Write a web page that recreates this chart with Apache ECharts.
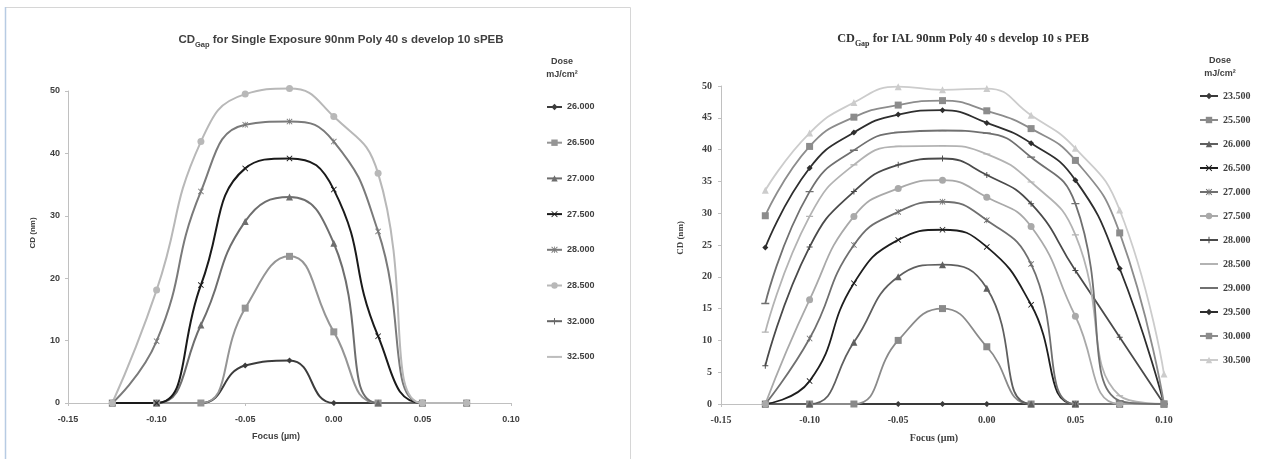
<!DOCTYPE html>
<html><head><meta charset="utf-8">
<script src="https://cdn.jsdelivr.net/npm/echarts@6/dist/echarts.min.js"></script>
<style>
html,body{margin:0;padding:0;background:#fff;width:1276px;height:459px;overflow:hidden}
#L{position:absolute;left:0;top:0;width:640px;height:459px}
#R{position:absolute;left:640px;top:0;width:636px;height:459px}
</style></head><body>
<div id="L"></div><div id="R"></div>
<script>
// ---------- data ----------
const xTicks = [-0.15, -0.10, -0.05, 0.00, 0.05, 0.10];
const focusLeft = [-0.125, -0.1, -0.075, -0.05, -0.025, 0, 0.025, 0.05, 0.075];
const dosesLeft = ['26.000','26.500','27.000','27.500','28.000','28.500','32.000','32.500'];
const L26000 = [0, 0, 0, 6.0, 6.8, 0, 0, 0, 0];
const L26500 = [0, 0, 0, 15.2, 23.5, 11.4, 0, 0, 0];
const L27000 = [0, 0, 12.5, 29.1, 33.0, 25.6, 0, 0, 0];
const L27500 = [0, 0, 18.9, 37.6, 39.2, 34.2, 10.7, 0, 0];
const L28000 = [0, 9.9, 33.9, 44.6, 45.1, 41.9, 27.5, 0, 0];
const L28500 = [0, 18.1, 41.9, 49.5, 50.4, 45.9, 36.8, 0, 0];
// no points of these two doses are visible in the plot
const L32000 = [null, null, null, null, null, null, null, null, null];
const L32500 = [null, null, null, null, null, null, null, null, null];

const focusRight = [-0.125, -0.1, -0.075, -0.05, -0.025, 0, 0.025, 0.05, 0.075, 0.1];
const dosesRight = ['23.500','25.500','26.000','26.500','27.000','27.500','28.000','28.500','29.000','29.500','30.000','30.500'];
const R23500 = [0, 0, 0, 0, 0, 0, 0, 0, 0, 0];
const R25500 = [0, 0, 0, 10.0, 15.0, 9.0, 0, 0, 0, 0];
const R26000 = [0, 0, 9.7, 20.0, 21.9, 18.2, 0, 0, 0, 0];
const R26500 = [0, 3.6, 19.0, 25.8, 27.4, 24.7, 15.6, 0, 0, 0];
const R27000 = [0, 10.3, 25.0, 30.2, 31.8, 28.9, 22.0, 0, 0, 0];
const R27500 = [0, 16.4, 29.5, 33.9, 35.2, 32.5, 27.9, 13.8, 0, 0];
const R28000 = [6.0, 24.7, 33.4, 37.6, 38.6, 36.0, 31.5, 21.0, 10.5, 0];
const R28500 = [11.3, 29.5, 37.6, 40.5, 40.6, 39.3, 34.9, 26.6, 1.3, 0];
const R29000 = [15.8, 33.4, 39.9, 42.7, 43.0, 42.6, 38.8, 31.5, 0.5, 0];
const R29500 = [24.6, 37.1, 42.7, 45.5, 46.2, 44.2, 41.0, 35.2, 21.3, 0];
const R30000 = [29.6, 40.5, 45.1, 47.0, 47.7, 46.1, 43.3, 38.3, 26.9, 0];
const R30500 = [33.6, 42.6, 47.4, 49.9, 49.4, 49.6, 45.4, 40.2, 30.5, 4.7];

// ---------- styles ----------
const SYM = {
  diamond: 'diamond', square: 'rect', triangle: 'triangle', circle: 'circle',
  x: 'path://M0,1L1,0L5,4L9,0L10,1L6,5L10,9L9,10L5,6L1,10L0,9L4,5Z',
  star: 'path://M0,1L1,0L5,4L9,0L10,1L6,5L10,9L9,10L5,6L1,10L0,9L4,5ZM4.4,0L5.6,0L5.6,10L4.4,10Z',
  plus: 'path://M4.2,0L5.8,0L5.8,4.2L10,4.2L10,5.8L5.8,5.8L5.8,10L4.2,10L4.2,5.8L0,5.8L0,4.2L4.2,4.2Z',
  dash: 'path://M0,0L0.01,0L0,0.01ZM10,10L9.99,10L10,9.99ZM0,4.2L10,4.2L10,5.8L0,5.8Z'
};
const styleLeft = [
  {c:'#3c3c3c', m:'diamond', s:6},
  {c:'#959595', m:'square', s:7},
  {c:'#6e6e6e', m:'triangle', s:7},
  {c:'#1a1a1a', m:'x', s:6},
  {c:'#7a7a7a', m:'star', s:6},
  {c:'#b8b8b8', m:'circle', s:7},
  {c:'#666666', m:'plus', s:6, z:1},
  {c:'#bdbdbd', m:'dash', s:7, z:1}
];
const styleRight = [
  {c:'#3a3a3a', m:'diamond', s:6},
  {c:'#8a8a8a', m:'square', s:7},
  {c:'#5f5f5f', m:'triangle', s:7},
  {c:'#1e1e1e', m:'x', s:6},
  {c:'#6f6f6f', m:'star', s:6},
  {c:'#a9a9a9', m:'circle', s:7},
  {c:'#4a4a4a', m:'plus', s:6},
  {c:'#b3b3b3', m:'dash', s:7},
  {c:'#707070', m:'dash', s:8},
  {c:'#2e2e2e', m:'diamond', s:6},
  {c:'#8c8c8c', m:'square', s:7},
  {c:'#cccccc', m:'triangle', s:7}
];
const SANS = '"Liberation Sans", Arial, sans-serif';
const SERIF = '"Liberation Serif", "Times New Roman", serif';

function fmt(v) { return Math.abs(v) < 1e-9 ? '0.00' : v.toFixed(2); }
function mk(name, ys, xs, st, w) {
  return {
    name: name, type: 'line', data: xs.map((x, i) => [x, ys[i]]),
    smooth: 0.5, symbol: SYM[st.m], symbolSize: st.s, showAllSymbol: true,
    lineStyle: {color: st.c, width: w}, itemStyle: {color: st.c},
    clip: false, z: st.z || 2, emphasis: {disabled: true}, silent: true
  };
}
function xAxisOf(font, fs, xm) {
  return {type: 'value', min: -0.15, max: 0.10, interval: 0.05,
    axisLine: {show: true, onZero: false, lineStyle: {color: '#c0c0c0', width: 1}},
    axisTick: {show: true, length: 3, lineStyle: {color: '#c0c0c0'}},
    splitLine: {show: false},
    axisLabel: {formatter: fmt, margin: xm, fontFamily: font, fontWeight: 'bold', fontSize: fs, color: '#404040'}};
}
function yAxisOf(font, fs, ym, step) {
  return {type: 'value', min: 0, max: 50, interval: step,
    axisLine: {show: true, onZero: false, lineStyle: {color: '#c0c0c0', width: 1}},
    axisTick: {show: true, length: 3, lineStyle: {color: '#c0c0c0'}},
    splitLine: {show: false},
    axisLabel: {margin: ym, fontFamily: font, fontWeight: 'bold', fontSize: fs, color: '#404040'}};
}

// ---------- left chart ----------
const leftData = [L26000, L26500, L27000, L27500, L28000, L28500, L32000, L32500];
const chartL = echarts.init(document.getElementById('L'));
chartL.setOption({
  animation: false,
  grid: {left: 68, top: 91, width: 443, height: 312},
  xAxis: xAxisOf(SANS, 9, 12),
  yAxis: yAxisOf(SANS, 9, 8, 10),
  legend: {orient: 'vertical', left: 541, top: 96, itemWidth: 15, itemHeight: 8, itemGap: 23.7,
    selectedMode: false, data: dosesLeft,
    textStyle: {fontFamily: SANS, fontWeight: 'bold', fontSize: 9, color: '#404040', lineHeight: 12}},
  graphic: [
    {type: 'rect', shape: {x: 5.5, y: 7.5, width: 625, height: 470}, style: {fill: 'none', stroke: '#d6d6d6', lineWidth: 1}, silent: true},
    {type: 'line', shape: {x1: 5.5, y1: 7, x2: 5.5, y2: 459}, style: {stroke: '#b7cbe3', lineWidth: 1.5}, silent: true},
    {type: 'text', x: 341, y: 40, silent: true, style: {
      text: '{a|CD}{b|Gap}{a| for Single Exposure 90nm Poly 40 s develop 10 sPEB}',
      align: 'center', verticalAlign: 'middle',
      rich: {a: {fontFamily: SANS, fontWeight: 'bold', fontSize: 11.5, lineHeight: 17, fill: '#404040'},
             b: {fontFamily: SANS, fontWeight: 'bold', fontSize: 7.5, lineHeight: 11, verticalAlign: 'bottom', fill: '#404040'}}}},
    {type: 'text', x: 562, y: 62, silent: true, style: {text: 'Dose', align: 'center', verticalAlign: 'middle', font: 'bold 9px ' + SANS, fill: '#404040'}},
    {type: 'text', x: 562, y: 75, silent: true, style: {text: 'mJ/cm²', align: 'center', verticalAlign: 'middle', font: 'bold 9px ' + SANS, fill: '#404040'}},
    {type: 'text', x: 33, y: 233, rotation: Math.PI / 2, silent: true, style: {text: 'CD (nm)', align: 'center', verticalAlign: 'middle', font: 'bold 8px ' + SANS, fill: '#404040'}},
    {type: 'text', x: 276, y: 437, silent: true, style: {text: 'Focus (µm)', align: 'center', verticalAlign: 'middle', font: 'bold 9px ' + SANS, fill: '#404040'}}
  ],
  series: dosesLeft.map((d, i) => mk(d, leftData[i], focusLeft, styleLeft[i], 2))
});

// ---------- right chart ----------
const rightData = [R23500, R25500, R26000, R26500, R27000, R27500, R28000, R28500, R29000, R29500, R30000, R30500];
const chartR = echarts.init(document.getElementById('R'));
chartR.setOption({
  animation: false,
  grid: {left: 81, top: 86, width: 443, height: 318},
  xAxis: xAxisOf(SERIF, 10, 11),
  yAxis: yAxisOf(SERIF, 10, 9, 5),
  legend: {orient: 'vertical', left: 554, top: 85, itemWidth: 18, itemHeight: 8, itemGap: 12,
    selectedMode: false, data: dosesRight,
    textStyle: {fontFamily: SERIF, fontWeight: 'bold', fontSize: 10, color: '#404040', lineHeight: 12}},
  graphic: [
    {type: 'text', x: 323, y: 39, silent: true, style: {
      text: '{a|CD}{b|Gap}{a| for IAL 90nm Poly 40 s develop 10 s PEB}',
      align: 'center', verticalAlign: 'middle',
      rich: {a: {fontFamily: SERIF, fontWeight: 'bold', fontSize: 12.3, lineHeight: 17, fill: '#333333'},
             b: {fontFamily: SERIF, fontWeight: 'bold', fontSize: 8, lineHeight: 11, verticalAlign: 'bottom', fill: '#333333'}}}},
    {type: 'text', x: 580, y: 61, silent: true, style: {text: 'Dose', align: 'center', verticalAlign: 'middle', font: 'bold 9px ' + SANS, fill: '#404040'}},
    {type: 'text', x: 580, y: 74, silent: true, style: {text: 'mJ/cm²', align: 'center', verticalAlign: 'middle', font: 'bold 9px ' + SANS, fill: '#404040'}},
    {type: 'text', x: 41, y: 238, rotation: Math.PI / 2, silent: true, style: {text: 'CD (nm)', align: 'center', verticalAlign: 'middle', font: 'bold 9px ' + SERIF, fill: '#404040'}},
    {type: 'text', x: 294, y: 438, silent: true, style: {text: 'Focus (µm)', align: 'center', verticalAlign: 'middle', font: 'bold 10px ' + SERIF, fill: '#404040'}}
  ],
  series: dosesRight.map((d, i) => mk(d, rightData[i], focusRight, styleRight[i], 1.8))
});
</script>
</body></html>
